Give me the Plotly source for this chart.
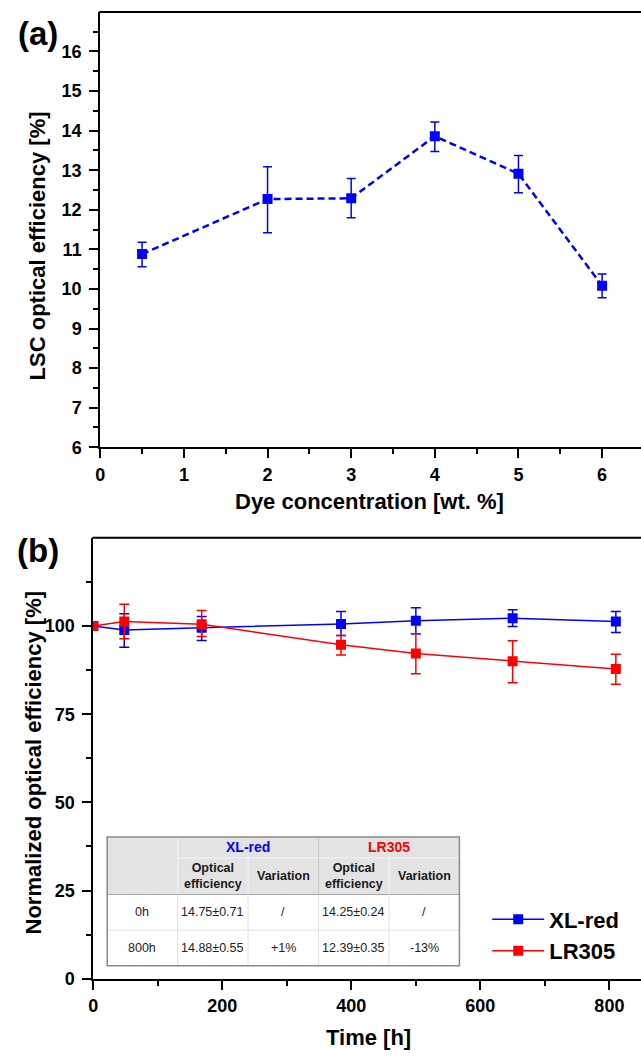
import plotly.graph_objects as go

W, H = 641, 1059

# ---------- data: panel (a) ----------
conc = [0.5, 2, 3, 4, 5, 6]
eff = [10.88, 12.27, 12.29, 13.86, 12.91, 10.08]
eff_err_hi = [0.30, 0.82, 0.50, 0.36, 0.46, 0.30]
eff_err_lo = [0.32, 0.85, 0.49, 0.39, 0.48, 0.30]
conc_ticks = [0, 1, 2, 3, 4, 5, 6]
eff_ticks = list(range(6, 17))

# ---------- data: panel (b) ----------
time_h = [0, 48, 168, 384, 500, 650, 810]
xl_red = [100, 98.9, 99.5, 100.6, 101.5, 102.2, 101.3]
xl_err_hi = [0, 4.6, 3.2, 3.5, 3.7, 2.4, 2.8]
xl_err_lo = [0, 4.9, 3.6, 3.3, 3.7, 2.3, 3.1]
lr305 = [100, 101.3, 100.5, 94.7, 92.2, 90.0, 87.8]
lr_err_hi = [0, 4.9, 3.9, 2.6, 5.6, 5.8, 4.2]
lr_err_lo = [0, 4.9, 3.5, 2.9, 5.7, 6.1, 4.3]
time_ticks = [0, 200, 400, 600, 800]
norm_ticks = [0, 25, 50, 75, 100]

# ---------- inset table ----------
tbl_groups = ["XL-red", "LR305"]
tbl_group_colors = ["#0000ff", "#ff0000"]
tbl_sub = ["Optical<br>efficiency", "Variation"]
tbl_rows = [
    ["0h", "14.75±0.71", "/", "14.25±0.24", "/"],
    ["800h", "14.88±0.55", "+1%", "12.39±0.35", "-13%"],
]

FONT = "Liberation Sans, Arial, sans-serif"
BLUE = "#0000ff"
RED = "#ff0000"


def px(x):
    return x / W


def py(y):
    return 1 - y / H


def bold(vals):
    return ["<b>%s</b>" % v for v in vals]


fig = go.Figure()

fig.add_trace(go.Scatter(
    x=conc, y=eff, mode="lines+markers", showlegend=False,
    line=dict(color=BLUE, width=2.5, dash="7px,4px"),
    marker=dict(symbol="square", size=10, color=BLUE),
    error_y=dict(type="data", array=eff_err_hi, arrayminus=eff_err_lo,
                 color=BLUE, thickness=1.5, width=4.5),
    xaxis="x", yaxis="y",
))

fig.add_trace(go.Scatter(
    x=time_h, y=xl_red, mode="lines+markers", name="XL-red",
    line=dict(color=BLUE, width=1.5),
    marker=dict(symbol="square", size=10, color=BLUE),
    error_y=dict(type="data", array=xl_err_hi, arrayminus=xl_err_lo,
                 color=BLUE, thickness=1.5, width=5),
    xaxis="x2", yaxis="y2",
))
fig.add_trace(go.Scatter(
    x=time_h, y=lr305, mode="lines+markers", name="LR305",
    line=dict(color=RED, width=1.5),
    marker=dict(symbol="square", size=10, color=RED),
    error_y=dict(type="data", array=lr_err_hi, arrayminus=lr_err_lo,
                 color=RED, thickness=1.5, width=5),
    xaxis="x2", yaxis="y2",
))

tickfont = dict(family=FONT, size=18, color="black")
common = dict(showline=True, linecolor="black", linewidth=2, ticks="outside",
              ticklen=9, tickwidth=2, tickcolor="black", showgrid=False,
              zeroline=False, tickfont=tickfont, mirror=False)


def minor(vals):
    return dict(tickvals=vals, ticklen=5, tickwidth=2, tickcolor="black", ticks="outside")


fig.update_layout(
    width=W, height=H, margin=dict(l=0, r=0, t=0, b=0),
    paper_bgcolor="white", plot_bgcolor="white",
    xaxis=dict(domain=[px(96), 1], range=[0, 6.465], anchor="y",
               tickvals=conc_ticks, ticktext=bold(conc_ticks),
               minor=minor([0.5, 1.5, 2.5, 3.5, 4.5, 5.5, 6.5]),
               ticklabelstandoff=1, **common),
    yaxis=dict(domain=[py(451.5), py(12)], range=[6, 17], anchor="x",
               tickvals=eff_ticks, ticktext=bold(eff_ticks),
               minor=minor([6.5 + i for i in range(11)]),
               ticklabelstandoff=4, **common),
    xaxis2=dict(domain=[px(89), 1], range=[0, 849], anchor="y2",
                tickvals=time_ticks, ticktext=bold(time_ticks),
                minor=minor([100, 300, 500, 700]),
                ticklabelstandoff=1, **common),
    yaxis2=dict(domain=[py(988), py(543)], range=[0, 125], anchor="x2",
                tickvals=norm_ticks, ticktext=bold(norm_ticks),
                minor=minor([12.5, 37.5, 62.5, 87.5, 112.5]),
                ticklabelstandoff=4, **common),
    legend=dict(x=px(486), y=py(907), xanchor="left", yanchor="top",
                bgcolor="rgba(0,0,0,0)", itemwidth=52, tracegroupgap=0,
                font=dict(family=FONT, size=22, color="black", weight="bold")),
)

shapes = []
# top frame lines
shapes.append(dict(type="line", xref="paper", yref="paper", x0=px(95), x1=1,
                   y0=py(12), y1=py(12), line=dict(color="black", width=2)))
shapes.append(dict(type="line", xref="paper", yref="paper", x0=px(88), x1=1,
                   y0=py(543), y1=py(543), line=dict(color="black", width=2)))

annotations = []
title_font = dict(family=FONT, size=22, color="black", weight="bold")


def note(text, x, y, font, angle=0):
    annotations.append(dict(text=text, x=px(x), y=py(y), xref="paper", yref="paper",
                            xanchor="center", yanchor="middle", showarrow=False,
                            textangle=angle, font=font))


panel_font = dict(family=FONT, size=33, color="black", weight="bold")
note("(a)", 33, 34, panel_font)
note("(b)", 33, 556, panel_font)
note("LSC optical efficiency [%]", 33, 248, title_font, -90)
note("Dye concentration [wt. %]", 367, 506, title_font)
note("Normalized optical efficiency [%]", 29, 770, title_font, -90)
note("Time [h]", 366, 1047, title_font)

# ---------- table drawing ----------
cx = [103, 174, 245, 316, 387, 458]
ry = [845, 866, 903, 939, 975]


def rect(x0, y0, x1, y1, fill, line_color=None, lw=0):
    shapes.append(dict(type="rect", xref="paper", yref="paper", x0=px(x0), x1=px(x1),
                       y0=py(y1), y1=py(y0), fillcolor=fill, layer="above",
                       line=dict(width=lw, color=line_color or fill)))


def hline(x0, x1, y, color, lw=1):
    shapes.append(dict(type="line", xref="paper", yref="paper", x0=px(x0), x1=px(x1),
                       y0=py(y), y1=py(y), layer="above", line=dict(color=color, width=lw)))


def vline(x, y0, y1, color, lw=1):
    shapes.append(dict(type="line", xref="paper", yref="paper", x0=px(x), x1=px(x),
                       y0=py(y0), y1=py(y1), layer="above", line=dict(color=color, width=lw)))


rect(cx[0], ry[0], cx[-1], ry[-1], "white")
rect(cx[0], ry[0], cx[-1], ry[2], "#e3e3e3")
hline(cx[1], cx[-1], ry[1], "#f4f4f4")
vline(cx[1], ry[0], ry[2], "#f4f4f4")
vline(cx[2], ry[1], ry[2], "#f4f4f4")
vline(cx[4], ry[1], ry[2], "#f4f4f4")
vline(cx[3], ry[0], ry[2], "#c8c8c8")
hline(cx[0], cx[-1], ry[2], "#a8a8a8")
hline(cx[0], cx[-1], ry[3], "#e0e0e0")
for x in cx[1:-1]:
    vline(x, ry[2], ry[4], "#e0e0e0")
rect(cx[0], ry[0], cx[-1], ry[-1], "rgba(0,0,0,0)", "#8a8a8a", 1.5)

hdr_font = dict(family=FONT, size=12.5, color="#1a1a1a", weight="bold")
body_font = dict(family=FONT, size=12.5, color="#222222")
for g, (name, col) in enumerate(zip(tbl_groups, tbl_group_colors)):
    xc = (cx[1 + 2 * g] + cx[3 + 2 * g]) / 2
    note(name, xc, (ry[0] + ry[1]) / 2, dict(family=FONT, size=14, color=col, weight="bold"))
    for s, sub in enumerate(tbl_sub):
        xc2 = (cx[1 + 2 * g + s] + cx[2 + 2 * g + s]) / 2
        note(sub, xc2, (ry[1] + ry[2]) / 2, hdr_font)
for r, row in enumerate(tbl_rows):
    yc = (ry[2 + r] + ry[3 + r]) / 2
    for c, val in enumerate(row):
        xc = (cx[c] + cx[c + 1]) / 2
        note(val, xc, yc, body_font)

fig.update_layout(shapes=shapes, annotations=annotations)
fig.write_html("out.html", config={"displayModeBar": False},
               post_script="document.body.style.margin='0';")
